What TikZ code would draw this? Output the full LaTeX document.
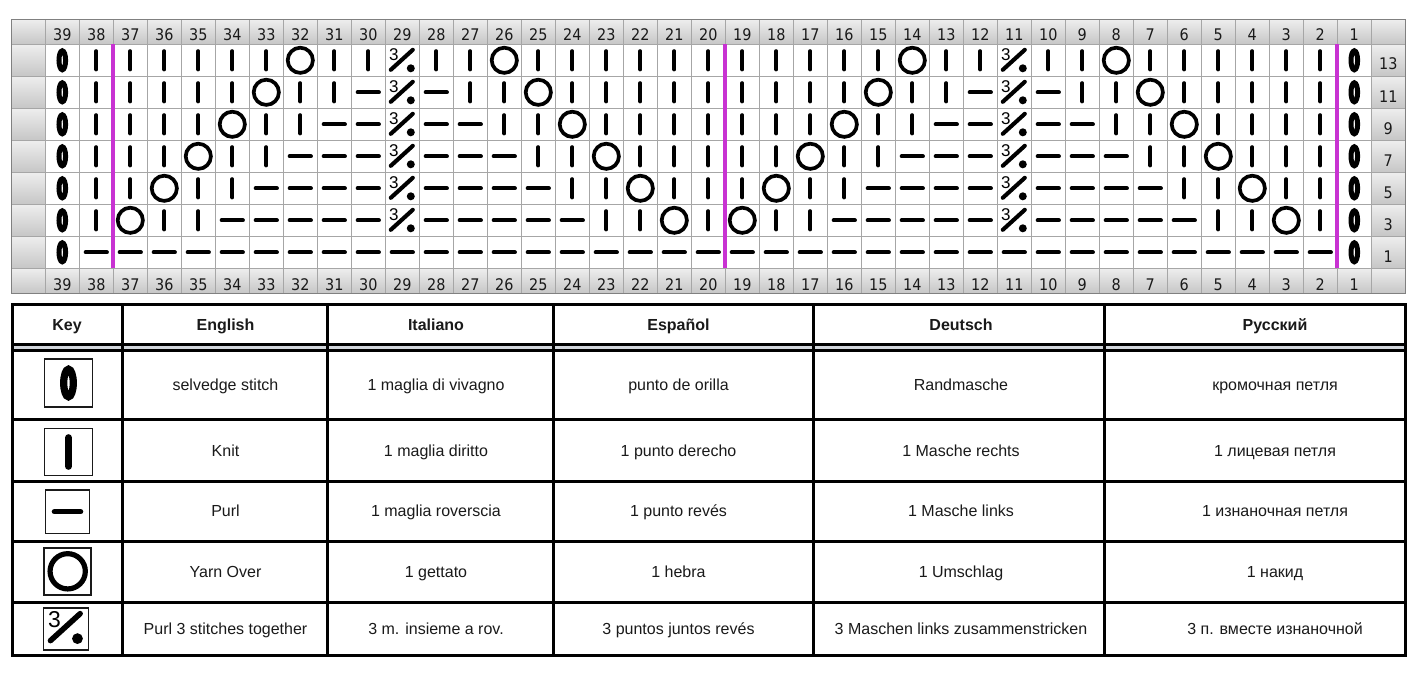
\documentclass[tikz,border=0pt]{standalone}
\usepackage{fontspec}
\setmainfont{Liberation Sans}
\IfFontExistsTF{DejaVu Sans Condensed}{\newfontfamily\numfont{DejaVu Sans Condensed}}{\newfontfamily\numfont{DejaVu Sans}}
\definecolor{gridc}{HTML}{A6A6A6}
\definecolor{framec}{HTML}{808080}
\definecolor{mag}{HTML}{C832D2}
\definecolor{cellTop}{HTML}{EEEEEE}
\definecolor{cellBot}{HTML}{C6C6C6}
\definecolor{band}{HTML}{D2D6DC}
\definecolor{ink}{HTML}{1A1A1A}
\tikzset{
  pics/stS/.style={code={\draw[line width=5*#1] (0,0) ellipse [x radius=3.3*#1, y radius=9.5*#1];}},
  pics/stK/.style={code={\draw[line width=4.3*#1, line cap=round] (0,-9*#1) -- (0,9*#1);}},
  pics/stP/.style={code={\draw[line width=4.3*#1, line cap=round] (-10.5*#1,0) -- (10.5*#1,0);}},
  pics/stY/.style={code={\draw[line width=3.7*#1] (0,0) circle [radius=12.6*#1];}},
  pics/stD/.style={code={
     \pgfmathsetmacro\pfs{17*#1}
     \node[inner sep=0, font=\fontsize{\pfs}{\pfs}\selectfont] at (-8.5*#1,-5.8*#1) {3};
     \draw[line width=4.1*#1, line cap=round] (-11.5*#1,9.5*#1) -- (10.5*#1,-10.5*#1);
     \fill (8.5*#1,8*#1) circle [radius=4*#1];}},
  gcell/.style={top color=cellTop, bottom color=cellBot},
  gline/.style={draw=gridc, line width=1},
  num/.style={font=\numfont\fontsize{16}{17}\selectfont, text=ink, anchor=base, inner sep=0},
  hd/.style={font=\bfseries\fontsize{16}{18}\selectfont, anchor=base, inner sep=0, text=ink},
  bd/.style={font=\fontsize{16}{18}\selectfont, anchor=base, inner sep=0, text=ink},
  tline/.style={line width=3, draw=black},
  keybox/.style={draw=ink, line width=1.5},
  repline/.style={draw=mag, line width=4},
}
\begin{document}
\begin{tikzpicture}[x=1pt,y=-1pt]
\useasboundingbox (0,0) rectangle (1420,677);
\fill[white] (0,0) rectangle (1420,677);
% ---------- chart: gray cells ----------
\foreach \k in {0,...,40} {
  \fill[gcell] ({11.3+34*\k},19.3) rectangle ({45.3+34*\k},44.3);
  \fill[gcell] ({11.3+34*\k},268.3) rectangle ({45.3+34*\k},293.3);
}
\foreach \r in {0,...,6} {
  \fill[gcell] (11.3,{44.3+32*\r}) rectangle (45.3,{76.3+32*\r});
  \fill[gcell] (1371.3,{44.3+32*\r}) rectangle (1405.3,{76.3+32*\r});
}
% ---------- chart: grid ----------
\foreach \k in {0,...,41} \draw[gline] ({11.3+34*\k},19.3) -- ({11.3+34*\k},293.3);
\foreach \y in {19.3,44.3,76.3,108.3,140.3,172.3,204.3,236.3,268.3,293.3} \draw[gline] (11.3,\y) -- (1405.3,\y);
\draw[draw=framec, line width=1] (11.3,19.3) rectangle (1405.3,293.3);
% ---------- chart: numbers ----------
\foreach \i in {1,...,39} {
  \pgfmathtruncatemacro\c{40-\i}
  \node[num] (h\c) at ({28.3+34*\i},40.7) {\c};
  \node[num] (f\c) at ({28.3+34*\i},290) {\c};
}
\foreach \r/\n in {0/13,1/11,2/9,3/7,4/5,5/3,6/1}
  \node[num] (rn\n) at (1388.3,{70+32*\r}) {\n};
% ---------- chart: stitches ----------
\foreach \r/\row in {
 0/{S,K,K,K,K,K,K,Y,K,K,D,K,K,Y,K,K,K,K,K,K,K,K,K,K,K,Y,K,K,D,K,K,Y,K,K,K,K,K,K,S},
 1/{S,K,K,K,K,K,Y,K,K,P,D,P,K,K,Y,K,K,K,K,K,K,K,K,K,Y,K,K,P,D,P,K,K,Y,K,K,K,K,K,S},
 2/{S,K,K,K,K,Y,K,K,P,P,D,P,P,K,K,Y,K,K,K,K,K,K,K,Y,K,K,P,P,D,P,P,K,K,Y,K,K,K,K,S},
 3/{S,K,K,K,Y,K,K,P,P,P,D,P,P,P,K,K,Y,K,K,K,K,K,Y,K,K,P,P,P,D,P,P,P,K,K,Y,K,K,K,S},
 4/{S,K,K,Y,K,K,P,P,P,P,D,P,P,P,P,K,K,Y,K,K,K,Y,K,K,P,P,P,P,D,P,P,P,P,K,K,Y,K,K,S},
 5/{S,K,Y,K,K,P,P,P,P,P,D,P,P,P,P,P,K,K,Y,K,Y,K,K,P,P,P,P,P,D,P,P,P,P,P,K,K,Y,K,S},
 6/{S,P,P,P,P,P,P,P,P,P,P,P,P,P,P,P,P,P,P,P,P,P,P,P,P,P,P,P,P,P,P,P,P,P,P,P,P,P,S}} {
  \foreach \s [count=\i] in \row {
    \pic at ({28.3+34*\i},{60.3+32*\r}) {st\s=1};
  }
}
% ---------- repeat lines ----------
\foreach \x in {113.3,725.3,1337.3} \draw[repline] (\x,44.3) -- (\x,268.3);
% ---------- key table ----------
\fill[band] (12.7,345.8) rectangle (1405.5,349.4);
\draw[tline] (12.7,344.5) -- (1405.5,344.5);
\draw[line width=2.5] (12.7,350.6) -- (1405.5,350.6);
\foreach \y in {419.5,481,541,602} \draw[tline] (12.7,\y) -- (1405.5,\y);
\foreach \x in {122,327,553.3,813.3,1104.8} \draw[tline] (\x,304) -- (\x,655);
\draw[tline] (12.7,304) rectangle (1405.5,655);
% headers
\node[hd] (kKey) at (67,330) {Key};
\node[hd] (kEn) at (225.5,330) {English};
\node[hd] (kIt) at (436,330) {Italiano};
\node[hd] (kEs) at (678.5,330) {Español};
\node[hd] (kDe) at (961,330) {Deutsch};
\node[hd] (kRu) at (1275,330) {Русский};
% rows
\foreach \n/\b/\en/\it/\es/\de/\ru in {
  1/390.8/{selvedge stitch}/{1 maglia di vivagno}/{punto de orilla}/{Randmasche}/{кромочная петля},
  2/456/{Knit}/{1 maglia diritto}/{1 punto derecho}/{1 Masche rechts}/{1 лицевая петля},
  3/516.7/{Purl}/{1 maglia roverscia}/{1 punto revés}/{1 Masche links}/{1 изнаночная петля},
  4/577.2/{Yarn Over}/{1 gettato}/{1 hebra}/{1 Umschlag}/{1 накид},
  5/634.2/{Purl 3 stitches together}/{3 m. insieme a rov.}/{3 puntos juntos revés}/{3 Maschen links zusammenstricken}/{3 п. вместе изнаночной}} {
  \node[bd] (en\n) at (225.5,\b) {\en};
  \node[bd] (it\n) at (436,\b) {\it};
  \node[bd] (es\n) at (678.5,\b) {\es};
  \node[bd] (de\n) at (961,\b) {\de};
  \node[bd] (ru\n) at (1275,\b) {\ru};
}
% key icons
\draw[keybox] (44.5,359) rectangle (92.5,407);
\pic at (68.5,383) {stS=1.45};
\draw[keybox] (44.5,428.5) rectangle (92.5,475.5);
\pic at (68.5,452) {stK=1.6};
\draw[keybox] (45.5,490) rectangle (89.5,533.4);
\pic at (67.5,511.7) {stP=1.25};
\draw[keybox] (44.2,547.8) rectangle (91.2,594.8);
\pic at (67.7,571.3) {stY=1.4};
\draw[keybox] (43.5,607.8) rectangle (88.5,649.8);
\pic at (66,627.8) {stD=1.35};
\end{tikzpicture}
\end{document}
